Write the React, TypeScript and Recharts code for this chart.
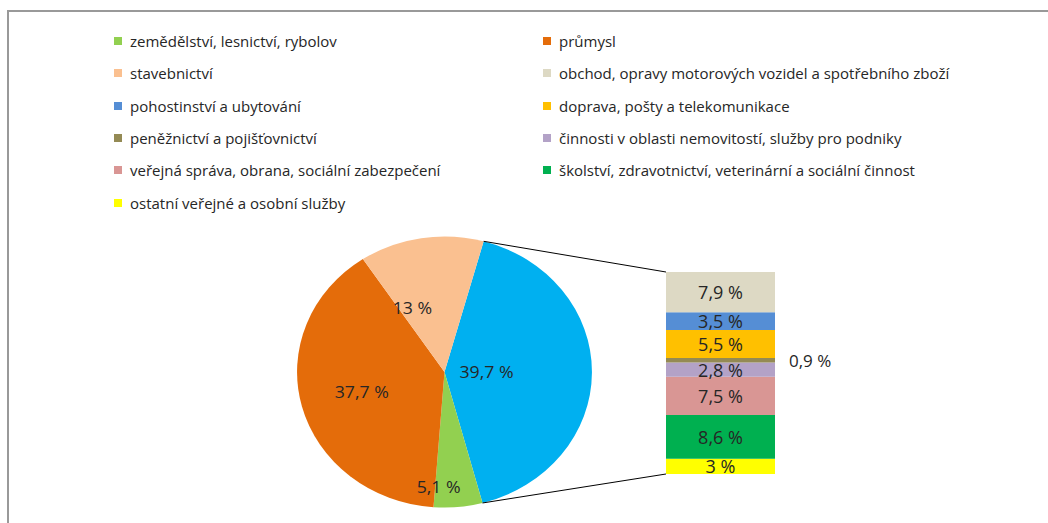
import React from 'react';
import { PieChart, Pie, Cell, BarChart, Bar, XAxis, YAxis, LabelList } from 'recharts';

const FONT = '"Open Sans", sans-serif';
const TEXT = '#262626';

// pie, clockwise from the split towards the bar
const PIE_NAMES = ['služby', 'zemědělství, lesnictví, rybolov', 'průmysl', 'stavebnictví'];
const PIE_VALUES = [39.7, 5.1, 37.7, 13];
const PIE_COLORS = ['#00B0F0', '#92D050', '#E46C0A', '#FAC090'];

// bar of pie, bottom to top
const BAR_NAMES = [
    'ostatní veřejné a osobní služby',
    'školství, zdravotnictví, veterinární a sociální činnost',
    'veřejná správa, obrana, sociální zabezpečení',
    'činnosti v oblasti nemovitostí, služby pro podniky',
    'peněžnictví a pojišťovnictví',
    'doprava, pošty a telekomunikace',
    'pohostinství a ubytování',
    'obchod, opravy motorových vozidel a spotřebního zboží',
];
const BAR_VALUES = [3, 8.6, 7.5, 2.8, 0.9, 5.5, 3.5, 7.9];
const BAR_COLORS = ['#FFFF00', '#00B050', '#D99694', '#B3A2C7', '#948A54', '#FFC000', '#558ED5', '#DDD9C4'];

const LEGEND_NAMES = [
    'zemědělství, lesnictví, rybolov',
    'průmysl',
    'stavebnictví',
    'obchod, opravy motorových vozidel a spotřebního zboží',
    'pohostinství a ubytování',
    'doprava, pošty a telekomunikace',
    'peněžnictví a pojišťovnictví',
    'činnosti v oblasti nemovitostí, služby pro podniky',
    'veřejná správa, obrana, sociální zabezpečení',
    'školství, zdravotnictví, veterinární a sociální činnost',
    'ostatní veřejné a osobní služby',
];
const LEGEND_COLORS = ['#92D050', '#E46C0A', '#FAC090', '#DDD9C4', '#558ED5', '#FFC000', '#948A54', '#B3A2C7', '#D99694', '#00B050', '#FFFF00'];

const PIE_DATA = PIE_NAMES.map((name, i) => ({ name, value: PIE_VALUES[i] }));
const BAR_ROW: Record<string, number | string> = { name: 'služby' };
BAR_VALUES.forEach((v, i) => { BAR_ROW[`k${i}`] = v; });

// layout (the pie is drawn as a circle and stretched into Excel's ellipse)
const CX = 444.5, CY = 372, R = 141.5;
const SX = 1.042, SY = 0.958;
const START = 74.6;
const BAR_X = 666, BAR_Y = 272, BAR_W = 109, BAR_H = 202, PAD = 12;
// [radius fraction, angle shift in degrees] per slice label
const LABEL_POS = [[0.285, 0], [0.847, -8], [0.58, 0], [0.52, 15.6]];

const fmt = (v: number) => `${String(v).replace('.', ',')} %`;

const renderPieLabel = (p: any) => {
    const [f, shift] = LABEL_POS[p.index];
    const a = (-(p.midAngle + shift) * Math.PI) / 180;
    const r = p.outerRadius * f;
    return (
        <text x={p.cx + r * Math.cos(a)} y={p.cy + r * Math.sin(a)} textAnchor="middle" dominantBaseline="central"
            fill={TEXT} fontSize={17} fontFamily={FONT}>
            {fmt(p.value)}
        </text>
    );
};

const renderBarLabel = (p: any) => {
    const { x, y, width, height, value } = p;
    const outside = value < 1;
    return (
        <text x={outside ? x + width + 14 : x + width / 2} y={y + height / 2} textAnchor={outside ? 'start' : 'middle'}
            dominantBaseline="central" fill={TEXT} fontSize={outside ? 17 : 18} fontFamily={FONT}>
            {fmt(value)}
        </text>
    );
};

export default function App() {
    const total = PIE_VALUES.reduce((s, v) => s + v, 0);
    const splitEnd = START - (PIE_VALUES[0] / total) * 360;
    const pt = (deg: number) => [
        CX + R * SX * Math.cos((deg * Math.PI) / 180),
        CY - R * SY * Math.sin((deg * Math.PI) / 180),
    ];
    const [x1, y1] = pt(START);
    const [x2, y2] = pt(splitEnd);

    return (
        <div style={{ position: 'absolute', left: 0, top: 0, width: 1048, height: 523, overflow: 'hidden', background: '#fff', fontFamily: FONT }}>
            <div style={{ position: 'absolute', left: 7, top: 10, width: 1200, height: 700, border: '2px solid #999' }} />

            {/* legend */}
            <div style={{ position: 'absolute', left: 114, top: 25, display: 'grid', gridTemplateColumns: '429px 480px', gridAutoRows: '32.3px' }}>
                {LEGEND_NAMES.map((n, i) => (
                    <div key={i} style={{ display: 'flex', alignItems: 'center', fontSize: 15, color: TEXT, whiteSpace: 'nowrap' }}>
                        <span style={{ width: 8, height: 8, background: LEGEND_COLORS[i], marginRight: 8, flex: 'none' }} />
                        {n}
                    </div>
                ))}
            </div>

            <div style={{ position: 'absolute', left: 0, top: 0, transform: `scale(${SX}, ${SY})`, transformOrigin: `${CX}px ${CY}px` }}>
                <PieChart width={1048} height={523} margin={{ top: 0, right: 0, bottom: 0, left: 0 }}>
                    <Pie data={PIE_DATA} dataKey="value" nameKey="name" cx={CX} cy={CY} outerRadius={R}
                        startAngle={START} endAngle={START - 360} stroke="none" label={renderPieLabel} labelLine={false}
                        isAnimationActive={false}>
                        {PIE_DATA.map((d, i) => <Cell key={i} fill={PIE_COLORS[i]} />)}
                    </Pie>
                </PieChart>
            </div>

            <svg style={{ position: 'absolute', left: 0, top: 0 }} width={1048} height={523}>
                <line x1={x1} y1={y1} x2={BAR_X} y2={BAR_Y} stroke="#000" strokeWidth={1} />
                <line x1={x2} y1={y2} x2={BAR_X} y2={BAR_Y + BAR_H} stroke="#000" strokeWidth={1} />
            </svg>

            <div style={{ position: 'absolute', left: BAR_X, top: BAR_Y - PAD }}>
                <BarChart width={BAR_W + 100} height={BAR_H + 2 * PAD} data={[BAR_ROW]}
                    margin={{ top: PAD, right: 100, bottom: PAD, left: 0 }} barCategoryGap={0}>
                    <XAxis dataKey="name" type="category" hide />
                    <YAxis type="number" domain={[0, 'dataMax']} hide />
                    {BAR_NAMES.map((n, i) => (
                        <Bar key={i} dataKey={`k${i}`} name={n} stackId="s" fill={BAR_COLORS[i]} isAnimationActive={false}>
                            <LabelList dataKey={`k${i}`} content={renderBarLabel} />
                        </Bar>
                    ))}
                </BarChart>
            </div>
        </div>
    );
}
